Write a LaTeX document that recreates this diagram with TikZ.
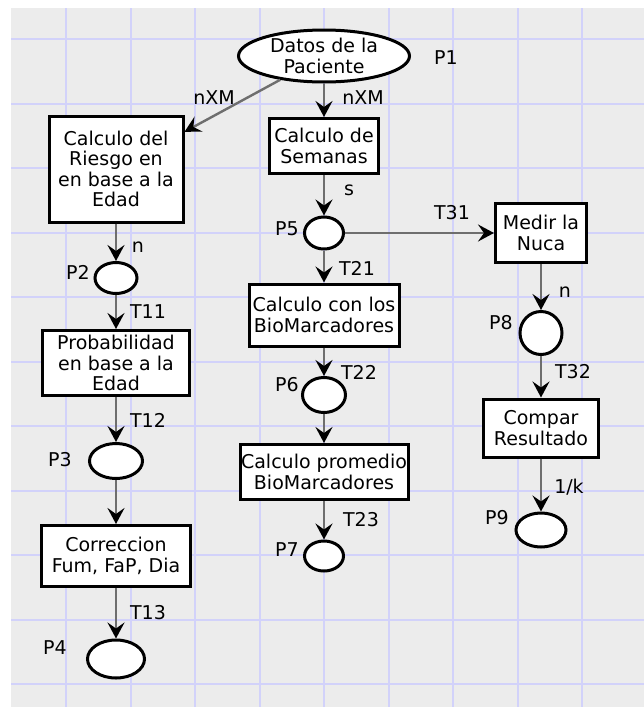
\documentclass[tikz,border=0pt]{standalone}
\usepackage{fontspec}
\setmainfont{DejaVu Sans}
\usetikzlibrary{shapes.geometric}
\usetikzlibrary{arrows.meta}

\definecolor{paper}{RGB}{236,236,236}
\definecolor{gridblue}{RGB}{210,210,250}
\definecolor{arcgray}{RGB}{110,110,110}

\begin{document}
\begin{tikzpicture}[
    x=1pt, y=-1pt,
    every node/.style={font=\fontsize{19}{20.5}\selectfont},
    place/.style={draw, ellipse, line width=3pt, fill=white, inner sep=0pt, align=center},
    trans/.style={draw, rectangle, line width=3pt, fill=white, inner sep=0pt, align=center},
    arc/.style={draw=arcgray, line width=2.4pt,
        -{Stealth[length=16pt, width=17pt, inset=6pt, color=black]}},
    lbl/.style={inner sep=0pt}]

    % page and grid
    \useasboundingbox (0,0) rectangle (644,707);
    \fill[paper] (11,8) rectangle (644,707);
    \foreach \gx in {0,...,8}
        \draw[gridblue, line width=2pt] ({66+64.5*\gx},8) -- ({66+64.5*\gx},707);
    \foreach \gy in {0,...,10}
        \draw[gridblue, line width=2pt] (11,{39+64.5*\gy}) -- (644,{39+64.5*\gy});

    % source place
    \node[place, minimum width=171pt, minimum height=52pt] (P1) at (324,56) {Datos de la\\Paciente};
    \node[lbl] (lP1) at (446,58) {P1};

    % left column
    \node[trans, minimum width=134pt, minimum height=106pt] (riesgo) at (116,169)
        {Calculo del\\Riesgo en\\en base a la\\Edad};
    \node[place, minimum width=42pt, minimum height=31pt] (P2) at (116,278) {};
    \node[trans, minimum width=147pt, minimum height=65pt] (prob) at (116,363)
        {Probabilidad\\en base a la\\Edad};
    \node[place, minimum width=53pt, minimum height=35pt] (P3) at (116,461) {};
    \node[trans, minimum width=149pt, minimum height=61pt] (corr) at (116,556)
        {Correccion\\Fum, FaP, Dia};
    \node[place, minimum width=57pt, minimum height=38pt] (P4) at (116,659) {};

    % middle column
    \node[trans, minimum width=109pt, minimum height=55pt] (semanas) at (324,146)
        {Calculo de\\Semanas};
    \node[place, minimum width=39pt, minimum height=32pt] (P5) at (324,233) {};
    \node[trans, minimum width=150pt, minimum height=62pt] (biomarc) at (324,315)
        {Calculo con los\\BioMarcadores};
    \node[place, minimum width=43pt, minimum height=35pt] (P6) at (324,395) {};
    \node[trans, minimum width=168pt, minimum height=55pt] (promedio) at (324,472)
        {Calculo promedio\\BioMarcadores};
    \node[place, minimum width=39pt, minimum height=30pt] (P7) at (324,556) {};

    % right column
    \node[trans, minimum width=91pt, minimum height=59pt] (nuca) at (541,233)
        {Medir la\\Nuca};
    \node[place, minimum width=42pt, minimum height=43pt] (P8) at (541,333) {};
    \node[trans, minimum width=115pt, minimum height=58pt] (compar) at (541,428)
        {Compar\\Resultado};
    \node[place, minimum width=50pt, minimum height=34pt] (P9) at (541,530) {};

    % arcs
    \draw[arc] (P1) -- (riesgo);
    \draw[arc] (P1) -- (semanas);
    \draw[arc] (riesgo) -- (P2);
    \draw[arc] (P2) -- (prob);
    \draw[arc] (prob) -- (P3);
    \draw[arc] (P3) -- (corr);
    \draw[arc] (corr) -- (P4);
    \draw[arc] (semanas) -- (P5);
    \draw[arc] (P5) -- (nuca);
    \draw[arc] (P5) -- (biomarc);
    \draw[arc] (biomarc) -- (P6);
    \draw[arc] (P6) -- (promedio);
    \draw[arc] (promedio) -- (P7);
    \draw[arc] (nuca) -- (P8);
    \draw[arc] (P8) -- (compar);
    \draw[arc] (compar) -- (P9);

    % labels
    \node[lbl] (wA) at (214,98) {nXM};
    \node[lbl] (wB) at (363,98) {nXM};
    \node[lbl] (wS) at (349,190) {s};
    \node[lbl] (wN1) at (138,247) {n};
    \node[lbl] (wN2) at (565,292) {n};
    \node[lbl] (wK) at (569,487) {1/k};
    \node[lbl] (lP2) at (78,272) {P2};
    \node[lbl] (lP3) at (60,460) {P3};
    \node[lbl] (lP4) at (55,648) {P4};
    \node[lbl] (lP5) at (287,229) {P5};
    \node[lbl] (lP6) at (287,385) {P6};
    \node[lbl] (lP7) at (287,550) {P7};
    \node[lbl] (lP8) at (501,323) {P8};
    \node[lbl] (lP9) at (497,518) {P9};
    \node[lbl] (lT11) at (148,312) {T11};
    \node[lbl] (lT12) at (148,420) {T12};
    \node[lbl] (lT13) at (148,613) {T13};
    \node[lbl] (lT21) at (357,268) {T21};
    \node[lbl] (lT22) at (359,372) {T22};
    \node[lbl] (lT23) at (361,520) {T23};
    \node[lbl] (lT31) at (452,213) {T31};
    \node[lbl] (lT32) at (573,372) {T32};

\end{tikzpicture}
\end{document}
